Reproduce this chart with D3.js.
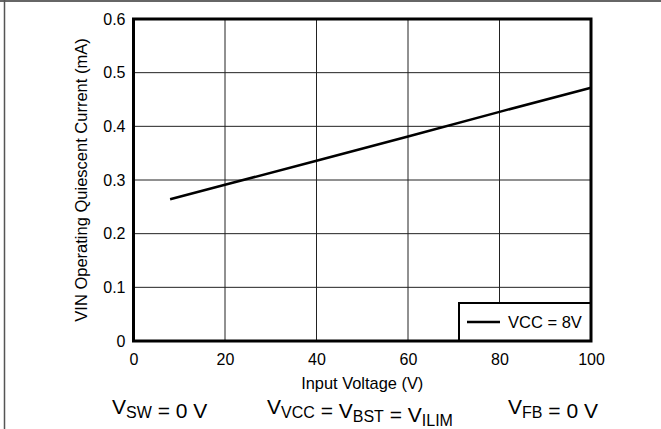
<!DOCTYPE html>
<html>
<head>
<meta charset="utf-8">
<script src="https://cdn.jsdelivr.net/npm/d3@7"></script>
<style>
  html, body { margin: 0; padding: 0; background: #fff; }
  svg { display: block; font-family: "Liberation Sans", Arial, Helvetica, sans-serif; }
</style>
</head>
<body>
<svg id="chart" width="661" height="429"></svg>
<script>
// ---- data ----
const inputVoltage = [8, 20, 40, 60, 80, 100];
const quiescentCurrent = [0.264, 0.291, 0.336, 0.381, 0.427, 0.472];
const xTicks = [0, 20, 40, 60, 80, 100];
const yTicks = [0, 0.1, 0.2, 0.3, 0.4, 0.5, 0.6];
const seriesName = "VCC = 8V";
const xTitle = "Input Voltage (V)";
const yTitle = "VIN Operating Quiescent Current (mA)";

// ---- layout ----
const svg = d3.select("#chart");
const L = 133.5, R = 591, T = 19, B = 341;
const x = d3.scaleLinear().domain([0, 100]).range([L, R]);
const y = d3.scaleLinear().domain([0, 0.6]).range([B, T]);

// outer frame (top + left only visible)
svg.append("line").attr("x1", 0).attr("x2", 661).attr("y1", 1).attr("y2", 1)
  .attr("stroke", "#333").attr("stroke-width", 1.5);
svg.append("line").attr("x1", 4.5).attr("x2", 4.5).attr("y1", 0).attr("y2", 429)
  .attr("stroke", "#555").attr("stroke-width", 1.5);

// grid
const g = svg.append("g");
g.selectAll(".vg").data(xTicks.slice(1, -1)).join("line")
  .attr("x1", d => x(d)).attr("x2", d => x(d)).attr("y1", T).attr("y2", B)
  .attr("stroke", "#222").attr("stroke-width", 1);
g.selectAll(".hg").data(yTicks.slice(1, -1)).join("line")
  .attr("x1", L).attr("x2", R).attr("y1", d => y(d)).attr("y2", d => y(d))
  .attr("stroke", "#222").attr("stroke-width", 1);

// axes (labels only)
const xAxis = d3.axisBottom(x).tickValues(xTicks).tickSize(0).tickPadding(13)
  .tickFormat(d3.format("d"));
svg.append("g").attr("transform", `translate(0,${B})`).call(xAxis)
  .attr("font-size", 16).attr("font-family", null)
  .call(s => s.select(".domain").remove())
  .selectAll("text").attr("fill", "#000");
const yAxis = d3.axisLeft(y).tickValues(yTicks).tickSize(0).tickPadding(8)
  .tickFormat(d => d === 0 ? "0" : d3.format(".1f")(d));
svg.append("g").attr("transform", `translate(${L},0)`).call(yAxis)
  .attr("font-size", 16).attr("font-family", null)
  .call(s => s.select(".domain").remove())
  .selectAll("text").attr("fill", "#000");

// data line
const line = d3.line().x((d, i) => x(inputVoltage[i])).y(d => y(d));
svg.append("path").datum(quiescentCurrent).attr("d", line)
  .attr("fill", "none").attr("stroke", "#000").attr("stroke-width", 2.5);

// legend
const lg = svg.append("g");
lg.append("rect").attr("x", 459).attr("y", 303).attr("width", R - 459).attr("height", B - 303)
  .attr("fill", "#fff").attr("stroke", "#000").attr("stroke-width", 2);
lg.append("line").attr("x1", 467).attr("x2", 500).attr("y1", 322).attr("y2", 322)
  .attr("stroke", "#000").attr("stroke-width", 2.5);
lg.append("text").attr("x", 508).attr("y", 328).attr("font-size", 16.5).text(seriesName);

// plot frame
svg.append("rect").attr("x", L).attr("y", T).attr("width", R - L).attr("height", B - T)
  .attr("fill", "none").attr("stroke", "#000").attr("stroke-width", 3);

// axis titles
svg.append("text").attr("x", (L + R) / 2).attr("y", 389).attr("text-anchor", "middle")
  .attr("font-size", 16.4).text(xTitle);
svg.append("text").attr("transform", `translate(87,${(T + B) / 2}) rotate(-90)`)
  .attr("text-anchor", "middle").attr("font-size", 16.5).text(yTitle);

// bottom conditions
function cond(xp, parts) {
  const t = svg.append("text").attr("x", xp).attr("y", 414).attr("font-size", 21);
  parts.forEach(p => {
    if (p.sub) {
      t.append("tspan").attr("font-size", 16).attr("dy", 4).text(p.sub);
      t.append("tspan").attr("dy", -4).text("");
    } else {
      t.append("tspan").text(p.t);
    }
  });
}
cond(112, [{t: "V"}, {sub: "SW"}, {t: " = 0 V"}]);
cond(267, [{t: "V"}, {sub: "VCC"}, {t: " = V"}, {sub: "BST"}, {t: " = V"}, {sub: "ILIM"}]);
cond(508, [{t: "V"}, {sub: "FB"}, {t: " = 0 V"}]);
</script>
</body>
</html>
